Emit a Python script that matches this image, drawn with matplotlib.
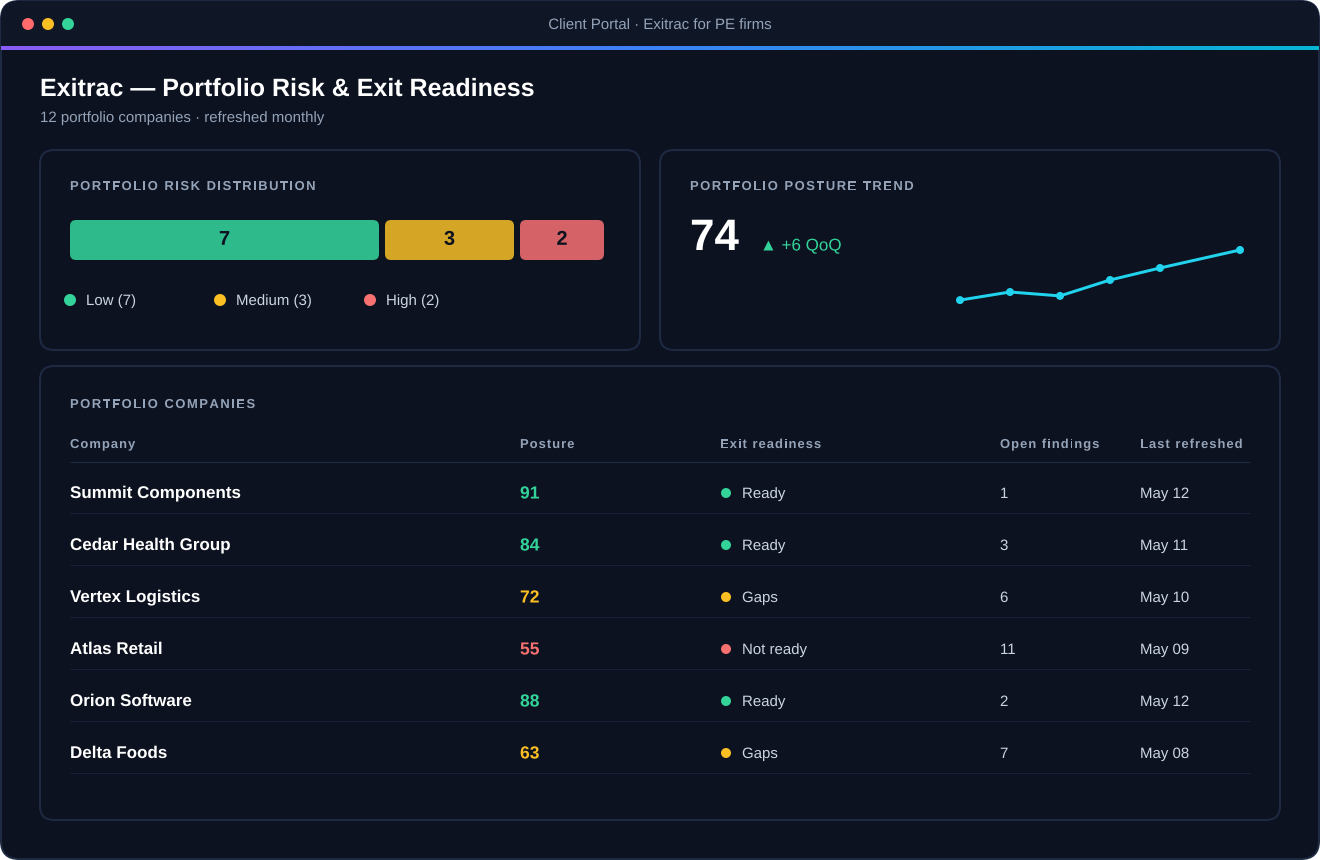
import matplotlib
matplotlib.use("Agg")
import matplotlib.pyplot as plt
import matplotlib.patheffects as pe
import numpy as np
from matplotlib.colors import to_rgb
from matplotlib.font_manager import findfont, get_font
from matplotlib.ft2font import LoadFlags
from matplotlib.patches import FancyBboxPatch, Circle, Rectangle
from matplotlib.text import Text
from matplotlib.textpath import TextPath
from matplotlib.transforms import Affine2D, Bbox

plt.rcParams['font.family'] = ['Liberation Sans', 'DejaVu Sans']
plt.rcParams['text.hinting'] = 'no_hinting'
plt.rcParams['text.hinting_factor'] = 1
plt.rcParams['path.effects'] = [pe.Normal()]

# ---- data ----
risk_labels = ["Low", "Medium", "High"]
risk_counts = [7, 3, 2]
trend_x = [0, 1, 2, 3, 4, 5.6]
trend_values = [57.3, 60, 58.7, 64, 68, 74]
headers = ["Company", "Posture", "Exit readiness", "Open findings", "Last refreshed"]
companies = ["Summit Components", "Cedar Health Group", "Vertex Logistics",
             "Atlas Retail", "Orion Software", "Delta Foods"]
posture = [91, 84, 72, 55, 88, 63]
readiness = ["Ready", "Ready", "Gaps", "Not ready", "Ready", "Gaps"]
findings = [1, 3, 6, 11, 2, 7]
refreshed = ["May 12", "May 11", "May 10", "May 09", "May 12", "May 08"]

# ---- palette ----
GREEN, AMBER, RED = "#34d399", "#fbbf24", "#f87171"
BODY, BAR, BORDER = "#0c1220", "#0f1626", "#1e2a42"
MUTED, SOFT = "#94a3b8", "#cbd5e1"
STATUS = {"Ready": GREEN, "Gaps": AMBER, "Not ready": RED}
W, H = 1320, 860


class SpacedText(Text):
    """One text object drawn with CSS-like letter spacing (in px)."""
    def __init__(self, *a, spacing=0, **k):
        super().__init__(*a, **k)
        self._spacing = spacing

    def get_window_extent(self, renderer=None, dpi=None):
        bb = super().get_window_extent(renderer, dpi)
        return Bbox.from_extents(bb.x0, bb.y0, bb.x1 + self._spacing * len(self.get_text()), bb.y1)

    def draw(self, renderer):
        s = self.get_text()
        x0, y0 = self.get_transform().transform(self.get_position())
        fp = self.get_fontproperties()
        font = get_font(findfont(fp))
        font.set_size(fp.get_size_in_points(), 100)
        pens = []
        pen = x0
        for ch in s:
            pens.append(pen)
            pen += font.load_char(ord(ch), flags=LoadFlags.NO_HINTING).linearHoriAdvance / 65536 + self._spacing
        size_px = fp.get_size_in_points() * 100 / 72
        rgb = to_rgb(self.get_color())
        gc = renderer.new_gc()
        gc.set_foreground(rgb)
        gc.set_linewidth(0)
        for ch, p in zip(s, pens):
            if ch != " ":
                path = TextPath((0, 0), ch, size=size_px, prop=fp)
                renderer.draw_path(gc, path, Affine2D().translate(p, y0), rgb)
        gc.restore()


fig = plt.figure(figsize=(W / 100, H / 100), dpi=100, facecolor="white")
ax = fig.add_axes([0, 0, 1, 1], zorder=1)
ax.set_xlim(0, W)
ax.set_ylim(H, 0)
ax.axis("off")


def px(size):
    return size * 0.72


def rbox(x0, y0, x1, y1, r, fc, ec="none", lw=0, z=2):
    p = FancyBboxPatch((x0 + r, y0 + r), x1 - x0 - 2 * r, y1 - y0 - 2 * r,
                       boxstyle=f"round,pad={r},rounding_size={r}",
                       fc=fc, ec=ec, lw=lw * 0.72, zorder=z)
    ax.add_patch(p)
    return p


def label(x, y, s, size, color, weight="normal", ha="left"):
    return ax.text(x, y, s, fontsize=px(size), color=color, fontweight=weight, ha=ha, va="baseline", zorder=6)


def spaced(x, y, s, size, color, spacing):
    t = SpacedText(x, y, s, fontsize=px(size), color=color, fontweight="bold",
                   va="baseline", ha="left", spacing=spacing, zorder=6)
    ax.add_artist(t)
    t.set_transform(ax.transData)
    return t


# ---- window ----
win = rbox(1, 1, W - 1, H - 1, 18, BODY, BORDER, 2, z=1)
tb = Rectangle((0, 0), W, 46, fc=BAR, ec="none", zorder=1.5)
ax.add_patch(tb)
tb.set_clip_path(win)
grad = np.linspace(0, 1, 256)
c0, c1, c2 = np.array([139, 92, 246]), np.array([59, 130, 246]), np.array([6, 182, 212])
rgb = np.array([c0 + (c1 - c0) * g * 2 if g < .5 else c1 + (c2 - c1) * (g - .5) * 2 for g in grad]) / 255
ax.imshow(rgb[None, :, :], extent=(1, W - 1, 50, 46), aspect="auto", zorder=1.6)
ax.set_xlim(0, W)
ax.set_ylim(H, 0)
for x, c in zip((28, 48, 68), ("#ff6b6b", AMBER, GREEN)):
    ax.add_patch(Circle((x, 24), 6, fc=c, ec="none", zorder=3))
label(660, 29, "Client Portal · Exitrac for PE firms", 15, MUTED, ha="center")

label(40, 96, "Exitrac — Portfolio Risk & Exit Readiness", 25, "white", "bold")
label(40, 122, "12 portfolio companies · refreshed monthly", 15, MUTED)

# ---- cards ----
rbox(40, 150, 640, 350, 14, BODY, BORDER, 2)
rbox(660, 150, 1280, 350, 14, BODY, BORDER, 2)
rbox(40, 366, 1280, 820, 14, BODY, BORDER, 2)
spaced(70, 190, "PORTFOLIO RISK DISTRIBUTION", 13, MUTED, 1.5)
spaced(690, 190, "PORTFOLIO POSTURE TREND", 13, MUTED, 1.5)
spaced(70, 408, "PORTFOLIO COMPANIES", 13, MUTED, 1.5)

# ---- stacked risk bar ----
bx = fig.add_axes([70 / W, 1 - 260 / H, 540 / W, 40 / H], zorder=2)
bx.set_xlim(0, sum(risk_counts))
bx.set_ylim(0, 1)
bx.axis("off")
gap = 6 / 45
bar_colors = ("#2eba8a", "#d5a525", "#d46266")
left = 0
for n, c in zip(risk_counts, bar_colors):
    b = bx.barh(0.5, n - gap, left=left, height=1, color=c, align="center")[0]
    x0 = 70 + left * 45
    x1 = x0 + n * 45 - 6
    clip = FancyBboxPatch((x0 + 6, 226), x1 - x0 - 12, 28, boxstyle="round,pad=6,rounding_size=6",
                          transform=ax.transData, fc="none", ec="none")
    b.set_clip_path(clip)
    bx.text(left + (n - gap) / 2, 0.38, str(n), ha="center", va="baseline", fontsize=px(20),
            fontweight="bold", color=BODY)
    left += n

for x, name, n, c in zip((70, 220, 370), risk_labels, risk_counts, (GREEN, AMBER, RED)):
    ax.add_patch(Circle((x, 300), 6, fc=c, ec="none", zorder=3))
    label(x + 16, 305, f"{name} ({n})", 15, SOFT)

# ---- posture trend ----
label(690, 250, str(trend_values[-1]).split('.')[0], 44, "white", "bold")
label(760, 250.5, "▲ +6 QoQ", 17, GREEN)
sx = fig.add_axes([960 / W, 1 - 310 / H, 280 / W, 70 / H], zorder=2)
sx.set_xlim(0, 5.6)
sx.set_ylim(54, 77.33)
sx.axis("off")
sx.plot(trend_x, trend_values, color="#22d3ee", lw=px(3), marker="o", ms=px(8), mew=0, clip_on=False)

# ---- table ----
cols = (70, 520, 720, 1000, 1140)
for x, h in zip(cols, headers):
    spaced(x, 448, h, 13, MUTED, 1.0)
ax.plot([70, 1250], [462, 462], color=BORDER, lw=px(1), zorder=3, solid_capstyle="butt")
for i in range(len(companies)):
    yc = 493 + 52 * i
    base = yc + 5
    label(cols[0], base, companies[i], 17, "white", "bold")
    pc = GREEN if posture[i] >= 80 else AMBER if posture[i] >= 60 else RED
    label(cols[1], base + 0.5, str(posture[i]), 17.5, pc, "bold")
    ax.add_patch(Circle((726, yc), 5, fc=STATUS[readiness[i]], ec="none", zorder=3))
    label(742, yc + 5, readiness[i], 15, SOFT)
    label(cols[3], yc + 5, str(findings[i]), 15, SOFT)
    label(cols[4], yc + 5, refreshed[i], 15, SOFT)
    ax.plot([70, 1250], [yc + 20] * 2, color="#18213a", lw=px(1), zorder=3, solid_capstyle="butt")

fig.savefig("out.png", dpi=100, facecolor="white")
